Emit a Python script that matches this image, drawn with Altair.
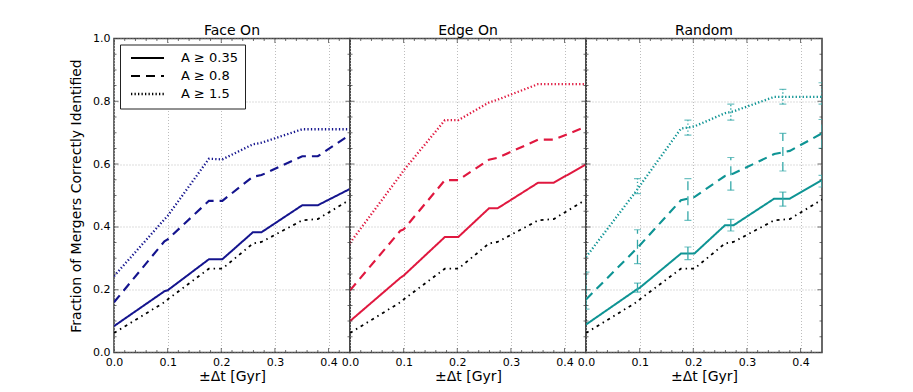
import altair as alt
import pandas as pd

# ---- data ----
X = [0.0, 0.094, 0.100, 0.177, 0.202, 0.259, 0.275, 0.351, 0.380, 0.440]
SERIES = ["A ≥ 0.35", "A ≥ 0.8", "A ≥ 1.5"]

BASELINE = [0.062, 0.160, 0.169, 0.267, 0.267, 0.347, 0.352, 0.421, 0.425, 0.487]

FACE_SOLID = [0.084, 0.195, 0.198, 0.297, 0.297, 0.383, 0.383, 0.469, 0.469, 0.521]
FACE_DASHED = [0.160, 0.354, 0.360, 0.483, 0.483, 0.560, 0.565, 0.625, 0.625, 0.694]
FACE_DOTTED = [0.243, 0.424, 0.435, 0.617, 0.615, 0.663, 0.668, 0.711, 0.711, 0.711]

EDGE_SOLID = [0.100, 0.238, 0.245, 0.368, 0.368, 0.459, 0.459, 0.541, 0.541, 0.599]
EDGE_DASHED = [0.198, 0.388, 0.392, 0.549, 0.549, 0.614, 0.620, 0.678, 0.678, 0.719]
EDGE_DOTTED = [0.349, 0.565, 0.580, 0.740, 0.740, 0.796, 0.805, 0.855, 0.855, 0.855]

RAND_SOLID = [0.089, 0.200, 0.206, 0.315, 0.315, 0.405, 0.405, 0.490, 0.490, 0.549]
RAND_DASHED = [0.169, 0.330, 0.341, 0.485, 0.495, 0.562, 0.570, 0.632, 0.642, 0.698]
RAND_DOTTED = [0.304, 0.515, 0.530, 0.713, 0.720, 0.762, 0.768, 0.814, 0.814, 0.814]

ERR_X = [0.096, 0.190, 0.270, 0.367, 0.440]
ERR_SOLID_LO = [0.192, 0.296, 0.387, 0.466, 0.527]
ERR_SOLID_HI = [0.221, 0.336, 0.424, 0.511, 0.564]
ERR_DASHED_X = [0.0, 0.096, 0.190, 0.270, 0.367, 0.440]
ERR_DASHED_LO = [0.138, 0.283, 0.421, 0.517, 0.578, 0.650]
ERR_DASHED_HI = [0.256, 0.391, 0.554, 0.621, 0.698, 0.742]
ERR_DOTTED_LO = [0.506, 0.692, 0.740, 0.791, 0.791]
ERR_DOTTED_HI = [0.554, 0.740, 0.791, 0.838, 0.859]

PANELS = ["Face On", "Edge On", "Random"]
COLORS = {"Face On": "#14148e", "Edge On": "#e0183f", "Random": "#0e9494"}
CURVES = {
    "Face On": [FACE_SOLID, FACE_DASHED, FACE_DOTTED],
    "Edge On": [EDGE_SOLID, EDGE_DASHED, EDGE_DOTTED],
    "Random": [RAND_SOLID, RAND_DASHED, RAND_DOTTED],
}

X_LABEL_TICKS = [0.0, 0.1, 0.2, 0.3, 0.4]
Y_LABEL_TICKS = [0.0, 0.2, 0.4, 0.6, 0.8, 1.0]
X_MINOR = [0.02, 0.04, 0.06, 0.08, 0.12, 0.14, 0.16, 0.18, 0.22, 0.24, 0.26,
           0.28, 0.32, 0.34, 0.36, 0.38, 0.42]
Y_MINOR = [0.05, 0.1, 0.15, 0.25, 0.3, 0.35, 0.45, 0.5, 0.55, 0.65, 0.7,
           0.75, 0.85, 0.9, 0.95]

DASHES = [[1, 0], [9, 6], [1.3, 2.2]]
WIDTHS = [2.0, 2.3, 1.4]

W, H = 236, 314
FONT = "DejaVu Sans"

xscale = alt.Scale(domain=[0, 0.44], nice=False, zero=False)
yscale = alt.Scale(domain=[0, 1], nice=False, zero=False)
dash_scale = alt.Scale(domain=SERIES, range=DASHES)
width_scale = alt.Scale(domain=SERIES, range=WIDTHS)

xt_df = pd.DataFrame({"x": X_LABEL_TICKS + X_MINOR,
                      "len": [9] * len(X_LABEL_TICKS) + [5] * len(X_MINOR)})
yt_df = pd.DataFrame({"y": Y_LABEL_TICKS + Y_MINOR,
                      "len": [9] * len(Y_LABEL_TICKS) + [5] * len(Y_MINOR)})


def panel(name, first):
    color = COLORS[name]
    rows = []
    for s, ys in zip(SERIES, CURVES[name]):
        for xv, yv in zip(X, ys):
            rows.append({"x": xv, "y": yv, "series": s})
    df = pd.DataFrame(rows)
    base_df = pd.DataFrame({"x": X, "y": BASELINE})

    xaxis = alt.Axis(values=X_LABEL_TICKS, format=".1f", title="±Δt [Gyr]",
                     grid=True, ticks=False, domain=False, labelFlush=False,
                     labelOverlap=False, labelPadding=4, titlePadding=2)
    if first:
        yaxis = alt.Axis(values=Y_LABEL_TICKS, format=".1f",
                         title="Fraction of Mergers Correctly Identified",
                         grid=True, ticks=False, domain=False, labelPadding=4,
                         titlePadding=9, labelFlush=False)
        legend = alt.Legend(title=None, orient="top-left", offset=6, padding=7,
                            strokeColor="#222222", fillColor="white",
                            cornerRadius=0, symbolType="M-3.3,0H3.3",
                            symbolSize=100, symbolStrokeColor="black",
                            symbolOffset=14, labelOffset=27, labelFont=FONT,
                            labelFontSize=13, labelColor="black", rowPadding=4,
                            labelLimit=200)
        title_offset = -5.5
    else:
        yaxis = alt.Axis(values=Y_LABEL_TICKS, labels=False, title=None,
                         grid=True, ticks=False, domain=False)
        legend = None
        title_offset = 0.5

    def X_(field):
        return alt.X(field, scale=xscale, axis=xaxis)

    def Y_(field):
        return alt.Y(field, scale=yscale, axis=yaxis)

    baseline = alt.Chart(base_df).mark_line(
        color="black", strokeDash=[3, 4, 1.5, 4], strokeWidth=1.8, clip=True
    ).encode(x=X_("x:Q"), y=Y_("y:Q"))

    lines = alt.Chart(df).mark_line(color=color, clip=True).encode(
        x=X_("x:Q"),
        y=Y_("y:Q"),
        strokeDash=alt.StrokeDash("series:N", scale=dash_scale, legend=legend),
        strokeWidth=alt.StrokeWidth("series:N", scale=width_scale, legend=legend),
    )

    layers = [baseline, lines]

    if name == "Random":
        erows = []
        for xv, lo, hi in zip(ERR_X, ERR_SOLID_LO, ERR_SOLID_HI):
            erows.append({"x": xv, "lo": lo, "hi": hi, "series": SERIES[0]})
        for xv, lo, hi in zip(ERR_DASHED_X, ERR_DASHED_LO, ERR_DASHED_HI):
            erows.append({"x": xv, "lo": lo, "hi": hi, "series": SERIES[1]})
        for xv, lo, hi in zip(ERR_X, ERR_DOTTED_LO, ERR_DOTTED_HI):
            erows.append({"x": xv, "lo": lo, "hi": hi, "series": SERIES[2]})
        edf = pd.DataFrame(erows)
        ecolor = "#33a8a8"
        bars = alt.Chart(edf).mark_rule(color=ecolor, strokeWidth=1.3,
                                        clip=True).encode(
            x=X_("x:Q"),
            y=Y_("lo:Q"),
            y2="hi:Q",
            strokeDash=alt.StrokeDash("series:N", scale=dash_scale, legend=None),
        )
        cap_lo = alt.Chart(edf).mark_tick(color=ecolor, orient="horizontal",
                                          size=7, thickness=1.2, clip=True).encode(
            x=X_("x:Q"), y=Y_("lo:Q"))
        cap_hi = alt.Chart(edf).mark_tick(color=ecolor, orient="horizontal",
                                          size=7, thickness=1.2, clip=True).encode(
            x=X_("x:Q"), y=Y_("hi:Q"))
        layers += [bars, cap_lo, cap_hi]

    tick_color = "#333333"
    for pos in [0, W]:
        layers.append(
            alt.Chart(yt_df).mark_tick(color=tick_color, thickness=1,
                                       orient="horizontal", clip=True).encode(
                y=Y_("y:Q"),
                x=alt.value(pos),
                size=alt.Size("len:Q", scale=None, legend=None),
            )
        )
    for pos in [0, H]:
        layers.append(
            alt.Chart(xt_df).mark_tick(color=tick_color, thickness=1,
                                       orient="vertical", clip=True).encode(
                x=X_("x:Q"),
                y=alt.value(pos),
                size=alt.Size("len:Q", scale=None, legend=None),
            )
        )

    return alt.layer(*layers).properties(
        width=W, height=H,
        title=alt.TitleParams(name, font=FONT, fontSize=14, fontWeight="normal",
                              offset=title_offset, color="black"),
    )


chart = alt.hconcat(
    panel("Face On", True), panel("Edge On", False), panel("Random", False),
    spacing=0, bounds="flush",
).resolve_scale(
    strokeDash="independent", strokeWidth="independent"
).resolve_legend(
    strokeDash="independent", strokeWidth="independent"
).properties(
    padding={"left": 60, "top": 14.5, "right": 5, "bottom": 5},
).configure_view(
    stroke="#444444", strokeWidth=1.6
).configure_axis(
    labelFont=FONT, labelFontSize=11, labelColor="black",
    titleFont=FONT, titleFontSize=14, titleFontWeight="normal", titleColor="black",
    gridColor="#b5b5b5", gridDash=[1, 2], gridWidth=0.9,
)

chart.save("out.html", embed_options={"renderer": "svg", "actions": False})
